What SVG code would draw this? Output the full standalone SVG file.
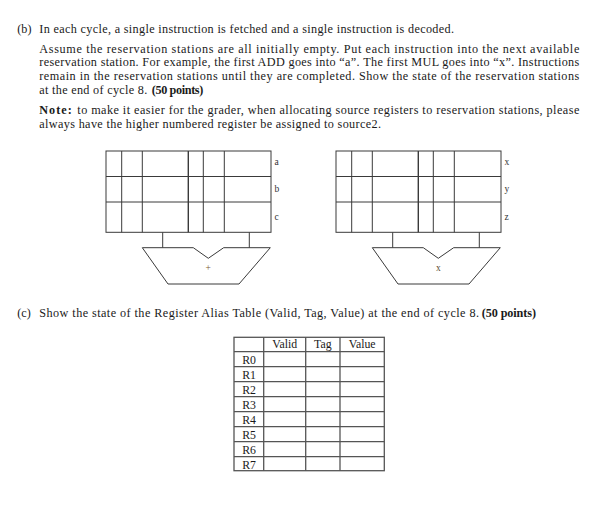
<svg xmlns="http://www.w3.org/2000/svg" width="598" height="510" viewBox="0 0 598 510">
<style>
.t{font-family:"Liberation Serif","Times New Roman",serif;font-size:12.2px;fill:#1a1a1a}
.m{font-size:11.8px}
.b{font-weight:bold}
.s{font-family:"Liberation Serif","Times New Roman",serif;font-size:9.5px;fill:#333}
.ln{stroke:#3a3a3a;stroke-width:1;fill:none}
.tb{stroke:#555;stroke-width:1.3;fill:none}
</style>
<rect width="598" height="510" fill="#fff"/>
<g id="text-b">
<text class="t" x="17.3" y="32.7">(b)</text>
<text class="t" x="39.3" y="32.7" textLength="414.7" lengthAdjust="spacing">In each cycle, a single instruction is fetched and a single instruction is decoded.</text>
<text class="t" x="39.3" y="52.5" textLength="540" lengthAdjust="spacing">Assume the reservation stations are all initially empty.  Put each instruction into the next available</text>
<text class="t" x="39.3" y="66.2" textLength="540" lengthAdjust="spacing">reservation station. For example, the first ADD goes into “a”. The first MUL goes into “x”. Instructions</text>
<text class="t" x="39.3" y="79.9" textLength="540" lengthAdjust="spacing">remain in the reservation stations until they are completed. Show the state of the reservation stations</text>
<text class="t" x="39.3" y="93.6" textLength="108" lengthAdjust="spacing">at the end of cycle 8.</text>
<text class="t b" x="151.7" y="93.6" textLength="51.6" lengthAdjust="spacing">(50 points)</text>
<text class="t b" x="39.3" y="114" textLength="32.4" lengthAdjust="spacing">Note:</text>
<text class="t" x="77.3" y="114" textLength="502" lengthAdjust="spacing">to make it easier for the grader, when allocating source registers to reservation stations, please</text>
<text class="t" x="39.3" y="127.7" textLength="341.7" lengthAdjust="spacing">always have the higher numbered register be assigned to source2.</text>
</g>
<g id="rs-add">
<rect class="ln" x="106" y="151" width="165" height="81.3"/>
<line class="ln" x1="106" y1="176.5" x2="271" y2="176.5"/>
<line class="ln" x1="106" y1="202" x2="271" y2="202"/>
<line class="ln" x1="121.7" y1="151" x2="121.7" y2="232.3"/>
<line class="ln" x1="142.3" y1="151" x2="142.3" y2="232.3"/>
<line class="ln" x1="188.3" y1="151" x2="188.3" y2="232.3" style="stroke-width:1.4"/>
<line class="ln" x1="203.3" y1="151" x2="203.3" y2="232.3"/>
<line class="ln" x1="224.3" y1="151" x2="224.3" y2="232.3"/>
<text class="s" x="274.5" y="164.5">a</text>
<text class="s" x="274.5" y="192">b</text>
<text class="s" x="274.5" y="220">c</text>
</g>
<g id="alu-add">
<path class="ln" d="M142.3,247.7 L193.3,247.7 L208.3,258.3 L223.7,247.7 L270.3,247.7 L239,284 L168,284 Z"/>
<text class="s" x="208.3" y="270.5" text-anchor="middle" style="fill:#7a5a30">+</text>
</g>
<g id="rs-mul">
<rect class="ln" x="336" y="151" width="165" height="81.3"/>
<line class="ln" x1="336" y1="176.5" x2="501" y2="176.5"/>
<line class="ln" x1="336" y1="202" x2="501" y2="202"/>
<line class="ln" x1="351.7" y1="151" x2="351.7" y2="232.3"/>
<line class="ln" x1="372.3" y1="151" x2="372.3" y2="232.3"/>
<line class="ln" x1="418.3" y1="151" x2="418.3" y2="232.3" style="stroke-width:1.4"/>
<line class="ln" x1="433.3" y1="151" x2="433.3" y2="232.3"/>
<line class="ln" x1="454.3" y1="151" x2="454.3" y2="232.3"/>
<text class="s" x="504.5" y="164.5">x</text>
<text class="s" x="504.5" y="192">y</text>
<text class="s" x="504.5" y="220">z</text>
</g>
<g id="alu-mul">
<path class="ln" d="M372.3,247.7 L423.3,247.7 L438.3,258.3 L453.7,247.7 L500.3,247.7 L469,284 L398,284 Z"/>
<text class="s" x="438.3" y="270.5" text-anchor="middle" style="fill:#5a4a30">x</text>
</g>
<g id="connectors">
<line class="ln" x1="162.7" y1="232.3" x2="162.7" y2="247.7"/>
<line class="ln" x1="249.3" y1="232.3" x2="249.3" y2="247.7"/>
<line class="ln" x1="392.7" y1="232.3" x2="392.7" y2="247.7"/>
<line class="ln" x1="479.3" y1="232.3" x2="479.3" y2="247.7"/>
</g>
<g id="text-c">
<text class="t" x="17.3" y="316.7">(c)</text>
<text class="t" x="39.3" y="316.7" textLength="439.7" lengthAdjust="spacing">Show the state of the Register Alias Table (Valid, Tag, Value) at the end of cycle 8.</text>
<text class="t b" x="481.7" y="316.7" textLength="54.3" lengthAdjust="spacing">(50 points)</text>
</g>
<g id="rat">
<rect class="tb" x="234" y="337.3" width="150.3" height="133.4"/>
<line class="tb" x1="263.7" y1="337.3" x2="263.7" y2="470.7"/>
<line class="tb" x1="305.7" y1="337.3" x2="305.7" y2="470.7"/>
<line class="tb" x1="340" y1="337.3" x2="340" y2="470.7"/>
<line class="tb" x1="234" y1="351.7" x2="384.3" y2="351.7"/>
<line class="tb" x1="234" y1="366.7" x2="384.3" y2="366.7"/>
<line class="tb" x1="234" y1="381.7" x2="384.3" y2="381.7"/>
<line class="tb" x1="234" y1="396.7" x2="384.3" y2="396.7"/>
<line class="tb" x1="234" y1="411.7" x2="384.3" y2="411.7"/>
<line class="tb" x1="234" y1="426.7" x2="384.3" y2="426.7"/>
<line class="tb" x1="234" y1="441.7" x2="384.3" y2="441.7"/>
<line class="tb" x1="234" y1="456.7" x2="384.3" y2="456.7"/>
<text class="t m" x="284.7" y="347.5" text-anchor="middle">Valid</text>
<text class="t m" x="322.8" y="347.5" text-anchor="middle">Tag</text>
<text class="t m" x="362.2" y="347.5" text-anchor="middle">Value</text>
<text class="t m" x="242.2" y="363.5">R0</text>
<text class="t m" x="242.2" y="378.5">R1</text>
<text class="t m" x="242.2" y="393.5">R2</text>
<text class="t m" x="242.2" y="408.5">R3</text>
<text class="t m" x="242.2" y="423.5">R4</text>
<text class="t m" x="242.2" y="438.5">R5</text>
<text class="t m" x="242.2" y="453.5">R6</text>
<text class="t m" x="242.2" y="468.5">R7</text>
</g>
</svg>
